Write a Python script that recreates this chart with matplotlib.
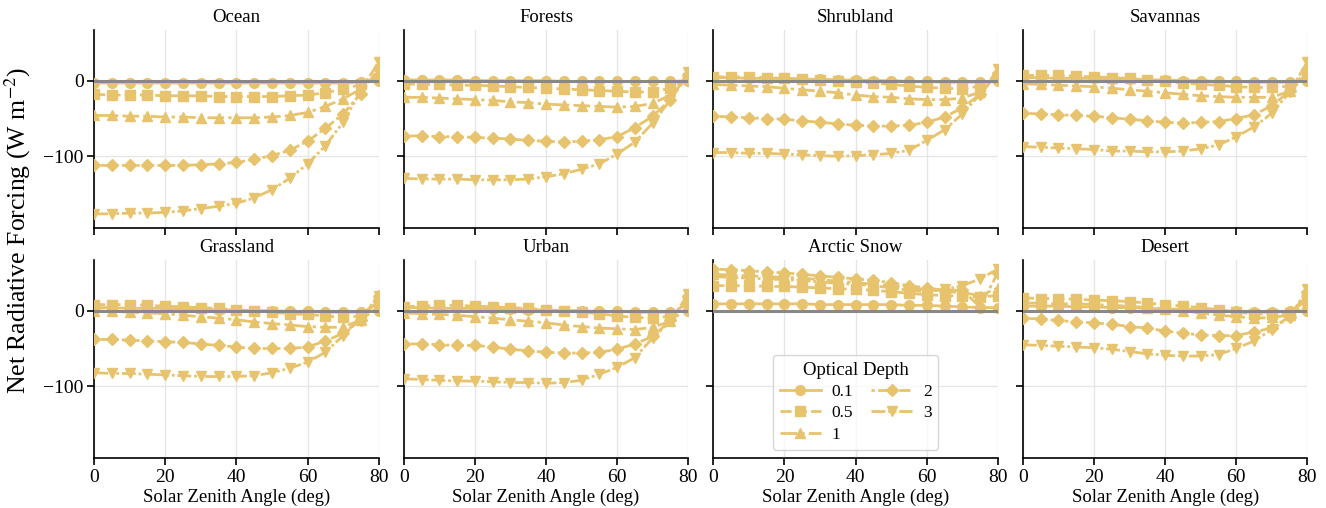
import matplotlib
matplotlib.use("Agg")
import matplotlib.pyplot as plt
import numpy as np

plt.rcParams['font.family'] = ['Liberation Serif', 'DejaVu Serif']
plt.rcParams['mathtext.fontset'] = 'stix'

### data ###
angles = [0, 5, 10, 15, 20, 25, 30, 35, 40, 45, 50, 55, 60, 65, 70, 75, 80]
depths = ['0.1', '0.5', '1', '2', '3']

# one list per optical depth, in the order of depths
ocean = [
    [-3, -3, -3, -3, -3, -3, -3, -3, -3, -3, -3, -3, -3, -3, -3, -2, 0],
    [-18, -19, -19, -19, -20, -20, -20, -21, -21, -21, -21, -20, -19, -16, -11, -5, 3],
    [-46, -46, -47, -47, -48, -48, -49, -49, -49, -49, -48, -46, -42, -34, -24, -11, 8],
    [-112, -112, -112, -112, -112, -112, -111, -110, -108, -104, -99, -92, -80, -63, -44, -17, 16],
    [-176, -176, -175, -175, -174, -172, -169, -166, -162, -155, -144, -129, -110, -86, -55, -13, 25],
]
forests = [
    [1, 1, 1, 1, 0, 0, 0, 0, 0, -1, -1, -1, -1, -1, -1, -1, 0],
    [-4, -5, -5, -6, -6, -7, -8, -9, -10, -11, -12, -13, -14, -15, -15, -10, 3],
    [-22, -22, -23, -24, -25, -26, -28, -29, -31, -32, -33, -34, -35, -34, -30, -19, 5],
    [-73, -73, -74, -74, -75, -76, -77, -79, -80, -81, -80, -78, -74, -62, -47, -25, 8],
    [-129, -130, -130, -130, -131, -131, -131, -130, -127, -123, -117, -110, -97, -81, -56, -25, 11],
]
shrubland = [
    [4, 4, 3, 3, 3, 2, 2, 1, 1, 0, 0, -1, -1, -2, -2, -2, 0],
    [5, 5, 5, 4, 3, 2, 1, 0, -2, -3, -5, -7, -9, -10, -11, -7, 5],
    [-5, -6, -7, -8, -10, -12, -14, -16, -19, -21, -22, -24, -25, -25, -23, -15, 5],
    [-47, -48, -49, -50, -51, -53, -55, -57, -59, -60, -60, -59, -55, -48, -36, -18, 10],
    [-95, -95, -96, -96, -97, -98, -99, -100, -99, -98, -96, -92, -79, -65, -44, -18, 15],
]
savannas = [
    [4, 4, 3, 3, 3, 2, 2, 1, 1, 0, 0, -1, -1, -2, -2, -2, 0],
    [7, 7, 7, 6, 5, 4, 3, 1, -1, -3, -5, -6, -8, -9, -9, -7, 8],
    [-4, -5, -6, -7, -8, -10, -12, -14, -16, -18, -20, -21, -22, -22, -22, -14, 8],
    [-43, -44, -45, -46, -47, -49, -51, -53, -55, -56, -55, -54, -50, -45, -33, -14, 15],
    [-87, -88, -89, -90, -91, -93, -93, -94, -94, -93, -90, -85, -74, -61, -43, -15, 25],
]
grassland = [
    [4, 4, 3, 3, 3, 2, 2, 1, 1, 0, 0, -1, -1, -2, -2, -2, 0],
    [8, 8, 8, 7, 6, 5, 4, 3, 1, 0, -2, -4, -5, -7, -9, -7, 12],
    [0, -1, -2, -3, -4, -6, -8, -10, -12, -15, -17, -19, -21, -22, -22, -12, 5],
    [-38, -38, -39, -40, -41, -42, -44, -46, -48, -50, -50, -50, -48, -40, -30, -12, 20],
    [-82, -83, -83, -84, -85, -86, -87, -87, -87, -86, -82, -76, -68, -55, -33, -10, 20],
]
urban = [
    [4, 4, 3, 3, 3, 2, 2, 1, 1, 0, 0, -1, -1, -2, -2, -2, 0],
    [5, 6, 7, 7, 6, 5, 4, 3, 1, 0, -2, -4, -7, -9, -10, -7, 12],
    [-3, -4, -5, -6, -8, -10, -12, -14, -16, -19, -21, -23, -24, -25, -22, -14, 5],
    [-44, -44, -45, -46, -46, -48, -51, -53, -55, -56, -56, -55, -51, -44, -34, -13, 20],
    [-90, -91, -92, -93, -93, -94, -95, -95, -96, -95, -92, -84, -75, -62, -36, -14, 22],
]
arctic = [
    [9, 9, 9, 9, 9, 9, 8, 8, 8, 8, 8, 7, 7, 6, 5, 4, 4],
    [33, 33, 33, 32, 32, 31, 30, 29, 28, 27, 25, 23, 21, 20, 19, 18, 20],
    [48, 47, 46, 45, 44, 43, 41, 39, 37, 35, 33, 30, 28, 25, 24, 20, 30],
    [55, 54, 53, 51, 50, 48, 46, 44, 42, 40, 37, 33, 30, 27, 27, 5, 50],
    [45, 44, 43, 42, 41, 40, 38, 36, 35, 33, 30, 27, 25, 28, 33, 42, 55],
]
desert = [
    [6, 6, 6, 5, 5, 4, 4, 3, 2, 2, 1, 0, -1, -2, -2, -1, 0],
    [17, 16, 16, 15, 14, 13, 12, 10, 8, 6, 4, 1, -2, -4, -5, -3, 15],
    [10, 10, 9, 9, 8, 7, 6, 4, 2, 0, -3, -6, -8, -10, -9, -6, 10],
    [-10, -11, -13, -15, -16, -18, -21, -23, -27, -30, -32, -33, -33, -28, -23, -8, 25],
    [-45, -46, -47, -48, -49, -51, -54, -57, -59, -60, -60, -58, -50, -40, -25, -8, 28],
]

regions = ['Ocean', 'Forests', 'Shrubland', 'Savannas',
           'Grassland', 'Urban', 'Arctic Snow', 'Desert']
region_data = [ocean, forests, shrubland, savannas,
               grassland, urban, arctic, desert]

### style ###
gold = '#E8C36D'
markers = ['o', 's', '^', 'D', 'v']
dashes = [(None, None), (4, 1.5), (6, 1.5, 1.2, 1.5), (1.2, 1.2, 4, 1.2), (5, 1, 1, 1, 1, 1)]

fig, axes = plt.subplots(2, 4, figsize=(13.26, 5.08), dpi=100, sharex=True, sharey=True)
fig.subplots_adjust(left=0.071, right=0.986, top=0.941, bottom=0.098, wspace=0.088, hspace=0.16)

for ax, name, data in zip(axes.flat, regions, region_data):
    for i in range(len(depths)):
        line, = ax.plot(angles, data[i], color=gold, marker=markers[i],
                        markersize=6.5 if markers[i] == 'D' else 7,
                        lw=2, label=depths[i], zorder=3)
        if dashes[i][0] is not None:
            line.set_dashes(dashes[i])
    ax.axhline(0, color='#888888', lw=2.2, zorder=4)
    ax.set_title(name, fontsize=13.5)
    ax.set_xlim(0, 80)
    ax.set_ylim(-195, 67)
    ax.set_xticks([0, 20, 40, 60, 80])
    ax.set_yticks([-100, 0])
    ax.grid(True, color='#e6e6e6', lw=1, zorder=0)
    ax.spines['top'].set_visible(False)
    ax.spines['right'].set_visible(False)
    ax.spines['left'].set_linewidth(1.2)
    ax.spines['bottom'].set_linewidth(1.2)
    ax.tick_params(labelsize=14, length=5, width=1.2, pad=2.5)

for ax in axes[1]:
    ax.set_xlabel('Solar Zenith Angle (deg)', fontsize=13.5, labelpad=2)

leg = axes[1, 2].legend(title='Optical Depth', ncol=2, loc='lower center',
                        bbox_to_anchor=(0.5, 0.0), fontsize=12.5, title_fontsize=13.5,
                        handlelength=2.4, columnspacing=1.0, handletextpad=0.6,
                        labelspacing=0.3, borderpad=0.4, framealpha=0.8)

fig.text(0.013, 0.547, 'Net Radiative Forcing (W m$^{-2}$)', rotation=90,
         va='center', ha='center', fontsize=18.5)

fig.savefig('out.png', dpi=100)
